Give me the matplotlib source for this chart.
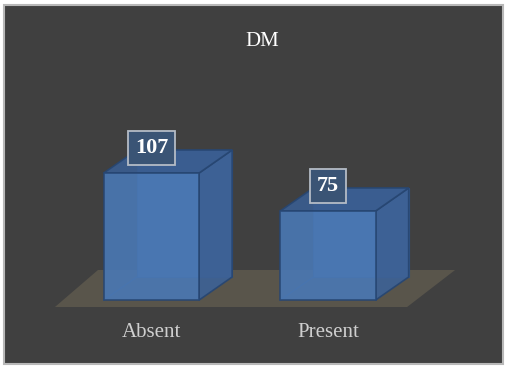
import matplotlib.pyplot as plt
from matplotlib.patches import Polygon, Rectangle

categories = ['Absent', 'Present']
values = [107, 75]
title = 'DM'

plt.rcParams['font.family'] = ['Liberation Serif', 'DejaVu Serif']

fig = plt.figure(figsize=(5.07, 3.67), dpi=100)
fig.patch.set_facecolor('white')

# dark panel with light border
fig.patches.append(Rectangle((4 / 507, 3 / 367), 499 / 507, 359 / 367,
                             transform=fig.transFigure, facecolor='#404040',
                             edgecolor='#b8b8b8', linewidth=1.5, zorder=-1))

ax = fig.add_axes([0, 0, 1, 1])
ax.set_zorder(1)
ax.set_xlim(-0.858, 2.014)
ax.set_ylim(-56.4, 252.7)
ax.axis('off')
ax.patch.set_alpha(0)

bw = 0.27     # half bar width
dx = 0.187    # depth offset (x)
dy = 19.4     # depth offset (y)

# floor
floor = Polygon([(-0.547, -5.9), (1.448, -5.9), (1.720, 25.3), (-0.303, 25.3)],
                closed=True, facecolor='#59554b', edgecolor='none', zorder=1)
ax.add_patch(floor)

edge = '#274672'
for i, v in enumerate(values):
    x0, x1 = i - bw, i + bw
    # back faces, seen through the translucent bar
    back = Rectangle((x0 + dx, dy), 2 * bw, v, facecolor='#44699f',
                     edgecolor='#34588a', lw=0.8, zorder=2)
    ax.add_patch(back)
    ax.plot([x0, x0 + dx], [0, dy], color='#34588a', lw=0.8, zorder=2)
    side = Polygon([(x1, 0), (x1 + dx, dy), (x1 + dx, v + dy), (x1, v)],
                   closed=True, facecolor='#3d6195', edgecolor=edge,
                   lw=1.2, alpha=0.92, zorder=3)
    top = Polygon([(x0, v), (x1, v), (x1 + dx, v + dy), (x0 + dx, v + dy)],
                  closed=True, facecolor='#3a5d8f', edgecolor=edge,
                  lw=1.2, alpha=0.92, zorder=3)
    front = Rectangle((x0, 0), 2 * bw, v, facecolor='#4a78b4',
                      edgecolor=edge, lw=1.2, alpha=0.9, zorder=4)
    ax.add_patch(side)
    ax.add_patch(top)
    ax.add_patch(front)
    ax.text(i, v + 21, str(v), ha='center', va='center', color='white',
            fontsize=16, fontweight='bold', zorder=6,
            bbox=dict(boxstyle='square,pad=0.3', facecolor='#3a5475',
                      edgecolor='#b4bcc6', lw=1.3))
    ax.text(i, -27, categories[i], ha='center', va='center',
            color='#cfcfcf', fontsize=15, zorder=6)

ax.text(0.517, 0.888, title, transform=fig.transFigure, ha='center',
        va='center', color='white', fontsize=15)

fig.savefig('out.png', dpi=100, facecolor=fig.get_facecolor())
